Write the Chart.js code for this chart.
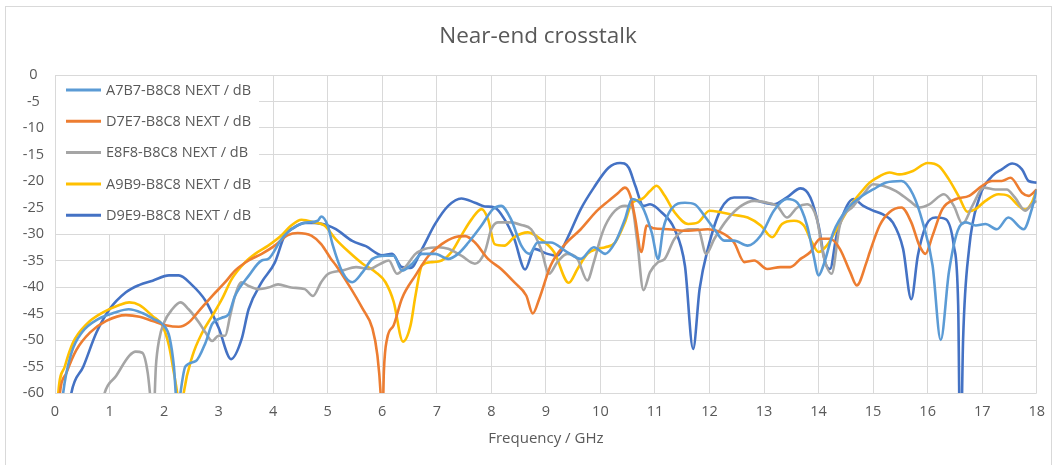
<!DOCTYPE html>
<html>
<head>
<meta charset="utf-8">
<script src="https://cdn.jsdelivr.net/npm/chart.js@4.4.1/dist/chart.umd.min.js"></script>
<style>
  html, body { margin: 0; padding: 0; background: #ffffff; }
  canvas { display: block; }
</style>
</head>
<body>
<canvas id="c" width="1055" height="465"></canvas>
<script>
// ---- Data ----
const chartTitle = 'Near-end crosstalk';
const xAxisTitle = 'Frequency / GHz';
const seriesNames = ['A7B7-B8C8 NEXT / dB', 'D7E7-B8C8 NEXT / dB', 'E8F8-B8C8 NEXT / dB', 'A9B9-B8C8 NEXT / dB', 'D9E9-B8C8 NEXT / dB'];
const seriesColors = ['#5B9BD5', '#ED7D31', '#A5A5A5', '#FFC000', '#4472C4'];

const a7b7Freq = [0.10,0.15,0.3,0.5,0.8,1.1,1.35,1.6,1.8,2.0,2.1,2.18,2.25,2.3,2.39,2.58,2.76,2.88,3.06,3.18,3.3,3.55,3.79,3.91,4.15,4.39,4.64,4.82,4.88,5.0,5.09,5.27,5.45,5.64,5.82,6.06,6.21,6.36,6.55,6.73,6.97,7.21,7.39,7.58,7.82,8.03,8.18,8.36,8.55,8.7,8.85,9.09,9.39,9.64,9.88,10.09,10.27,10.45,10.58,10.76,10.94,11.06,11.15,11.3,11.55,11.73,11.91,12.09,12.27,12.45,12.7,12.94,13.18,13.42,13.61,13.79,13.91,14.0,14.09,14.27,14.52,14.76,15.0,15.24,15.52,15.73,15.91,16.09,16.24,16.39,16.55,16.7,16.88,17.06,17.27,17.48,17.76,17.91,18.0];
const a7b7Db = [-66,-60,-52.5,-48.5,-46,-44.8,-44.2,-44.9,-46,-47.3,-49.5,-55,-64,-60,-55,-54,-50.5,-47,-45.8,-45.2,-41.7,-37.9,-35,-34.7,-31,-28.7,-27.8,-27.5,-26.7,-28.4,-32,-37.2,-39.1,-37.2,-34.7,-34.1,-34.1,-36.9,-35.6,-33.75,-33.75,-34.7,-33.75,-31.6,-28.4,-25.3,-24.7,-27.2,-32.2,-33.75,-31.6,-31.6,-33.4,-34.7,-32.5,-33.75,-31.6,-27.2,-23.4,-24.7,-29.7,-34.7,-29.1,-25.3,-24.1,-24.4,-26.6,-29.1,-31.25,-31.25,-32.2,-30.3,-25.6,-23.4,-24.1,-28.4,-34.1,-37.8,-35.9,-29.7,-25.3,-23.1,-21.6,-20.3,-20,-22.5,-27.8,-35.9,-50,-37.2,-29.4,-27.8,-28.4,-28.1,-29.1,-26.9,-29.1,-25.3,-21.6];

const d7e7Freq = [0.05,0.09,0.21,0.39,0.64,0.94,1.3,1.55,1.79,2.03,2.27,2.45,2.64,2.88,3.12,3.3,3.55,3.79,4.03,4.27,4.45,4.7,4.88,5.06,5.15,5.39,5.64,5.82,5.91,5.97,6.0,6.03,6.09,6.21,6.36,6.61,6.85,7.09,7.33,7.52,7.7,7.94,8.18,8.42,8.64,8.76,8.88,9.09,9.33,9.64,9.94,10.15,10.33,10.45,10.55,10.64,10.75,10.85,10.97,11.24,11.61,11.97,12.21,12.45,12.64,12.82,13.06,13.3,13.48,13.67,13.85,14.03,14.21,14.39,14.58,14.7,14.88,14.94,15.12,15.3,15.52,15.7,15.85,15.96,16.09,16.27,16.52,16.76,17.0,17.18,17.36,17.52,17.73,17.85,18.0];
const d7e7Db = [-66,-60,-56.2,-51.9,-48.6,-46.4,-45.3,-45.6,-46.4,-47.2,-47.5,-46.7,-44.5,-41.7,-39.1,-36.9,-35,-33.75,-32.2,-30.2,-29.8,-30.3,-31.9,-34.7,-35.9,-39.7,-44.1,-47.8,-52.8,-60,-68,-56,-49.7,-47.2,-42.2,-37.8,-34.1,-31.9,-30.6,-30.4,-31.6,-34.7,-36.6,-39.1,-41.6,-45,-42.2,-35.9,-32.2,-29.1,-25.6,-23.75,-22.2,-21.25,-22.8,-27.2,-33.4,-28.4,-28.9,-29.1,-29.4,-29.1,-29.7,-31.6,-35.3,-35,-36.6,-36.25,-36.25,-34.7,-33.4,-30.9,-30.9,-32.8,-37.2,-39.7,-35.3,-33.4,-28.4,-25.9,-25,-27.8,-32.2,-33.75,-30.3,-25.3,-23.4,-22.8,-20.9,-20,-20,-19.4,-22.2,-22.8,-21.6];

const e8f8Freq = [0.8,0.91,1.12,1.36,1.48,1.6,1.7,1.76,1.8,1.85,1.91,2.0,2.15,2.3,2.45,2.64,2.76,2.88,3.0,3.12,3.21,3.3,3.42,3.55,3.73,3.91,4.09,4.33,4.58,4.73,4.88,5.0,5.27,5.52,5.76,5.97,6.12,6.27,6.42,6.61,6.79,7.03,7.21,7.45,7.7,7.88,8.0,8.12,8.36,8.55,8.73,8.91,9.06,9.21,9.39,9.58,9.76,9.88,10.0,10.09,10.27,10.45,10.58,10.67,10.79,10.91,11.06,11.18,11.36,11.61,11.79,11.94,12.09,12.33,12.58,12.82,13.06,13.24,13.42,13.61,13.79,13.97,14.09,14.24,14.39,14.64,14.82,15.0,15.18,15.42,15.67,15.85,16.03,16.3,16.48,16.64,16.82,17.03,17.24,17.45,17.6,17.79,17.91,18.0];
const e8f8Db = [-66,-60,-56.8,-53,-52.2,-52.4,-56.2,-62,-66,-55,-49.9,-46.7,-44.2,-42.9,-44.2,-46.7,-48.6,-50.2,-49.2,-49.2,-45.5,-41.7,-39.1,-39.8,-40.4,-40.1,-39.5,-40.1,-40.4,-41.7,-39.1,-37.6,-36.9,-36.25,-36.6,-35.6,-35,-37.5,-36.25,-33.75,-32.8,-32.5,-32.8,-34.1,-35.6,-33.4,-29.1,-27.8,-27.8,-28.3,-29.1,-32.8,-37.5,-35.3,-33.75,-34.7,-38.75,-35.3,-30.9,-28.4,-25.6,-24.7,-25,-30.9,-40.6,-37.2,-35.3,-34.7,-30.9,-29.1,-29.1,-33.75,-30.9,-27.2,-24.7,-23.75,-24.1,-24.7,-26.9,-25,-24.4,-27.2,-34.1,-37.5,-28.4,-24.7,-22.5,-20.6,-20.9,-21.9,-23.75,-25,-24.4,-22.5,-24.7,-28.1,-24.7,-21.25,-21.6,-21.6,-23.1,-25.6,-24.4,-23.75];

const a9b9Freq = [0.03,0.06,0.18,0.33,0.58,0.88,1.18,1.36,1.55,1.79,1.97,2.09,2.18,2.24,2.3,2.36,2.52,2.7,2.88,3.06,3.24,3.48,3.67,3.91,4.15,4.33,4.52,4.76,4.94,5.15,5.39,5.64,5.88,6.06,6.21,6.38,6.52,6.61,6.73,6.91,7.09,7.27,7.45,7.64,7.82,7.94,8.06,8.24,8.42,8.67,8.91,9.15,9.42,9.58,9.76,9.94,10.09,10.27,10.45,10.58,10.76,10.91,11.03,11.18,11.36,11.61,11.79,12.0,12.21,12.45,12.7,12.94,13.15,13.33,13.55,13.73,13.88,14.0,14.15,14.33,14.58,14.82,14.94,15.12,15.3,15.48,15.73,16.0,16.21,16.39,16.58,16.73,16.88,17.06,17.3,17.48,17.67,17.79,17.91,18.0];
const a9b9Db = [-66,-60,-55,-50.5,-47,-44.8,-43.4,-42.9,-43.4,-45.5,-47.3,-51.1,-56.2,-60,-66,-60,-53,-48.6,-45.5,-42.3,-38.5,-35.4,-33.75,-32.2,-30.3,-28.4,-27.3,-27.8,-28.4,-31,-33.4,-35.6,-37.2,-39.1,-42.8,-50.3,-47.2,-41.6,-35.9,-35.3,-35,-33.4,-30.3,-27.2,-25.3,-27.2,-31.9,-32.2,-30.6,-29.7,-31,-33.4,-39.2,-36.6,-33.75,-32.8,-32.5,-31.6,-27.8,-24.1,-23.4,-21.9,-20.9,-22.8,-25.9,-28.1,-27.8,-25.6,-25.9,-26.4,-26.9,-28.4,-30.6,-28.1,-27.5,-28.4,-31.6,-33.4,-32.2,-29.1,-24.7,-21.6,-20.3,-19.1,-18.4,-18.75,-18.1,-16.6,-17.2,-19.7,-23.1,-25.8,-25.3,-23.75,-22.5,-22.8,-24.7,-25.4,-24.1,-21.6];

const d9e9Freq = [0.2,0.3,0.52,0.76,1.0,1.3,1.55,1.79,2.09,2.27,2.5,2.76,3.0,3.23,3.42,3.55,3.79,4.03,4.21,4.4,4.58,4.76,5.0,5.15,5.45,5.7,6.0,6.18,6.36,6.52,6.73,6.97,7.21,7.45,7.7,7.88,8.06,8.24,8.42,8.62,8.79,9.03,9.21,9.39,9.64,9.88,10.15,10.36,10.52,10.64,10.79,10.91,11.12,11.36,11.55,11.7,11.82,11.97,12.21,12.45,12.7,12.94,13.18,13.42,13.67,13.85,14.0,14.12,14.21,14.33,14.52,14.64,14.82,15.0,15.18,15.36,15.55,15.7,15.82,15.97,16.15,16.33,16.48,16.56,16.6,16.65,16.76,16.94,17.18,17.36,17.55,17.73,17.85,18.0];
const d9e9Db = [-68,-60,-55,-48.6,-44.2,-41,-39.6,-38.8,-37.8,-37.8,-39.5,-42.6,-47.7,-53.6,-49.9,-44.2,-39.1,-35.4,-30.3,-28.7,-27.9,-27.9,-28.4,-29.1,-31.3,-32.3,-34,-33.75,-36.25,-36.4,-32.8,-28.1,-24.7,-23.3,-24.1,-24.8,-25,-27.2,-30.9,-36.7,-32.8,-33.75,-34.1,-30.9,-25.3,-21.25,-17.5,-16.6,-17.5,-20.9,-24.7,-24.4,-25.9,-29.1,-36,-51.7,-40.3,-32.8,-25.3,-23.1,-23.1,-23.9,-24.4,-23.1,-21.4,-23.1,-28.4,-35.3,-36.6,-30.3,-24.7,-23.4,-24.7,-25.6,-26.3,-27.8,-32.8,-42.3,-34.1,-28.4,-26.9,-27.2,-32.2,-43.4,-75,-50,-32.8,-23.4,-19.1,-17.8,-16.7,-17.8,-20,-20.3];

const seriesFreqs = [a7b7Freq, d7e7Freq, e8f8Freq, a9b9Freq, d9e9Freq];
const seriesDbs = [a7b7Db, d7e7Db, e8f8Db, a9b9Db, d9e9Db];

const xMin = 0, xMax = 18, xStep = 1;
const yMin = -60, yMax = 0, yStep = 5;

// ---- Styling ----
const FONT = "'Open Sans', 'Liberation Sans', sans-serif";
const TEXT = '#595959';
const GRID = '#D9D9D9';

const datasets = seriesNames.map((name, i) => ({
  label: name,
  data: seriesFreqs[i].map((f, k) => ({ x: f, y: seriesDbs[i][k] })),
  borderColor: seriesColors[i],
  backgroundColor: seriesColors[i],
  borderWidth: 2.6,
  pointRadius: 0,
  showLine: true,
  cubicInterpolationMode: 'monotone',
  fill: false
}));

const framePlugin = {
  id: 'frame',
  beforeDraw(chart) {
    const ctx = chart.ctx;
    ctx.save();
    ctx.fillStyle = '#ffffff';
    ctx.fillRect(0, 0, chart.width, chart.height);
    ctx.strokeStyle = '#D9D9D9';
    ctx.lineWidth = 1;
    ctx.strokeRect(5.5, 6.5, chart.width - 9, chart.height - 5);
    // chart title
    ctx.fillStyle = TEXT;
    ctx.font = '22.5px ' + FONT;
    ctx.textAlign = 'center';
    ctx.textBaseline = 'middle';
    ctx.fillText(chartTitle, 538, 37);
    ctx.restore();
  }
};

const innerLegend = {
  id: 'innerLegend',
  beforeDatasetsDraw(chart) {
    const ca = chart.chartArea;
    const ctx = chart.ctx;
    ctx.save();
    ctx.fillStyle = '#ffffff';
    ctx.fillRect(ca.left + 1, ca.top + 1, 203, 158);
    ctx.restore();
  },
  afterDatasetsDraw(chart) {
    const ca = chart.chartArea;
    const ctx = chart.ctx;
    ctx.save();
    ctx.font = '14.5px ' + FONT;
    ctx.textBaseline = 'middle';
    ctx.textAlign = 'left';
    chart.data.datasets.forEach((ds, i) => {
      const y = ca.top + 15 + i * 31.3;
      ctx.strokeStyle = ds.borderColor;
      ctx.lineWidth = 3;
      ctx.beginPath();
      ctx.moveTo(ca.left + 11, y);
      ctx.lineTo(ca.left + 46, y);
      ctx.stroke();
      ctx.fillStyle = TEXT;
      ctx.fillText(ds.label, ca.left + 51, y + 0.5);
    });
    ctx.restore();
  }
};

new Chart(document.getElementById('c'), {
  type: 'scatter',
  data: { datasets },
  plugins: [framePlugin, innerLegend],
  options: {
    responsive: false,
    animation: false,
    devicePixelRatio: 1,
    layout: { padding: { left: 0, right: 10, top: 75, bottom: 10 } },
    plugins: {
      legend: { display: false },
      tooltip: { enabled: false },
      title: { display: false }
    },
    scales: {
      x: {
        type: 'linear',
        min: xMin, max: xMax,
        ticks: { stepSize: xStep, color: TEXT, font: { family: FONT, size: 14.5 }, padding: 10 },
        grid: { color: GRID, lineWidth: 1, drawTicks: false },
        border: { display: false },
        title: { display: true, text: xAxisTitle, color: TEXT, font: { family: FONT, size: 15 }, padding: { top: 0, bottom: 7 } },
        afterFit(scale) { scale.height = 62; }
      },
      y: {
        min: yMin, max: yMax,
        ticks: { stepSize: yStep, color: TEXT, font: { family: FONT, size: 14.5 }, padding: 11, crossAlign: 'center' },
        grid: { color: GRID, lineWidth: 1, drawTicks: false },
        border: { display: false },
        afterFit(scale) { scale.width = 55; }
      }
    }
  }
});
</script>
</body>
</html>
